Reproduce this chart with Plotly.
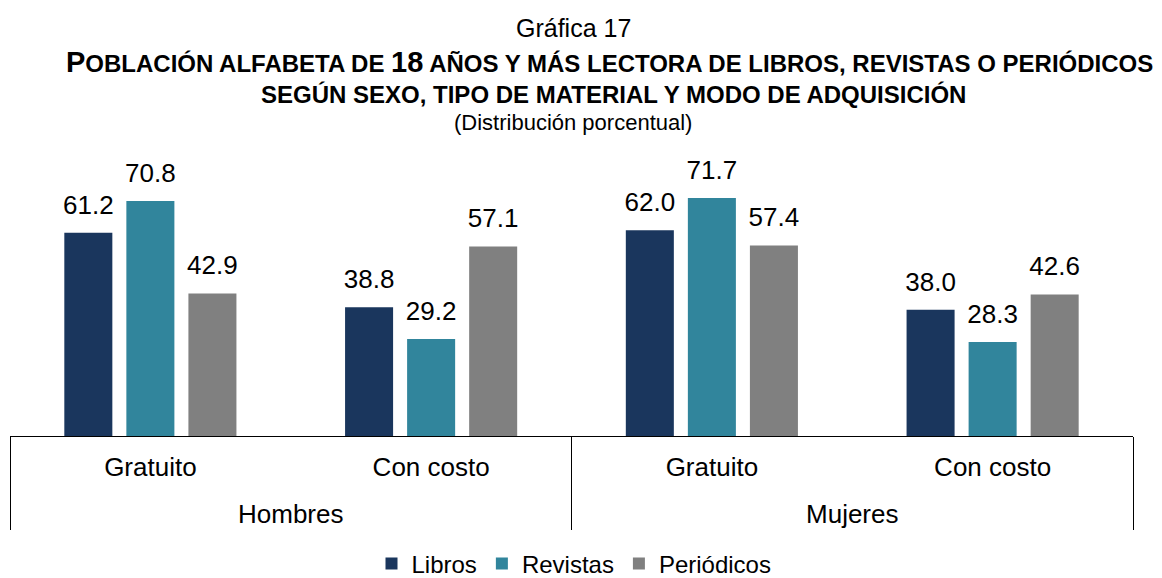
import plotly.graph_objects as go

# ---- data ----
sexo = ["Hombres", "Hombres", "Mujeres", "Mujeres"]
modo = ["Gratuito", "Con costo", "Gratuito", "Con costo"]
libros = [61.2, 38.8, 62.0, 38.0]
revistas = [70.8, 29.2, 71.7, 28.3]
periodicos = [42.9, 57.1, 57.4, 42.6]
series_names = ["Libros", "Revistas", "Periódicos"]
colors = ["#1A365D", "#31859C", "#808080"]

FONT = "Liberation Sans, Arial, sans-serif"
LBL = 26  # label font size
TICK_BASE = 15  # base tick font (controls line spacing)


def big(s, size=LBL):
    return f"<span style='font-size:{size}px'>{s}</span>"


prim = [big(m) + "<br>\u00a0<br>\u00a0" for m in modo]
sec = [big(s) for s in sexo]

fig = go.Figure()
for name, vals, col in zip(series_names, [libros, revistas, periodicos], colors):
    fig.add_trace(go.Bar(
        x=[sec, prim], y=vals, name=name,
        marker=dict(color=col, line=dict(width=0)),
        text=[big(f"{v:.1f}") + "<br>\u00a0" for v in vals],
        textposition="outside", constraintext="none",
        textfont=dict(size=11, color="#000000", family=FONT),
        cliponaxis=False,
    ))

H_TOP = 150
H_BOT = 436
ph = H_BOT - H_TOP


def py(pix):
    return (H_BOT - pix) / ph


def px(pix):
    return (pix - 10) / 1123


annos = [
    dict(text="Gráfica 17", x=px(573), y=py(28), font=dict(size=25)),
    dict(text="<b><span style='font-size:29px'>P</span>OBLACIÓN ALFABETA DE "
              "<span style='font-size:29px'>18</span> AÑOS Y MÁS LECTORA DE LIBROS, "
              "REVISTAS O PERIÓDICOS</b>",
         x=px(609), y=py(62), font=dict(size=24)),
    dict(text="<b>SEGÚN SEXO, TIPO DE MATERIAL Y MODO DE ADQUISICIÓN</b>",
         x=px(613), y=py(94), font=dict(size=24)),
    dict(text="(Distribución porcentual)", x=px(573), y=py(122), font=dict(size=22)),
]
for a in annos:
    a.update(xref="paper", yref="paper", xanchor="center", yanchor="middle",
             showarrow=False)
    a["font"].update(family=FONT, color="#000000")
fig.update_layout(annotations=annos)

fig.update_layout(
    width=1162, height=578,
    margin=dict(l=10, r=29, t=H_TOP, b=578 - H_BOT, autoexpand=False),
    paper_bgcolor="white", plot_bgcolor="white",
    barmode="group", bargap=0.337, bargroupgap=0.226,
    font=dict(family=FONT, color="#000000", size=25),
    showlegend=True,
    legend=dict(orientation="h", xref="container", yref="container",
                x=574 / 1162, xanchor="center", y=(578 - 564) / 578,
                yanchor="middle", font=dict(size=24, family=FONT),
                bgcolor="rgba(0,0,0,0)"),
    xaxis=dict(type="multicategory", showline=True, linecolor="#000000", linewidth=1,
               ticks="", ticklabelstandoff=21,
               showdividers=True, dividercolor="#000000", dividerwidth=1,
               tickfont=dict(size=TICK_BASE, family=FONT, color="#000000"),
               showgrid=False),
    yaxis=dict(visible=False, range=[0, ph / 3.32], showgrid=False, zeroline=False),
)

fig.write_html("out.html", config={"displayModeBar": False},
               post_script="document.body.style.margin='0';")
